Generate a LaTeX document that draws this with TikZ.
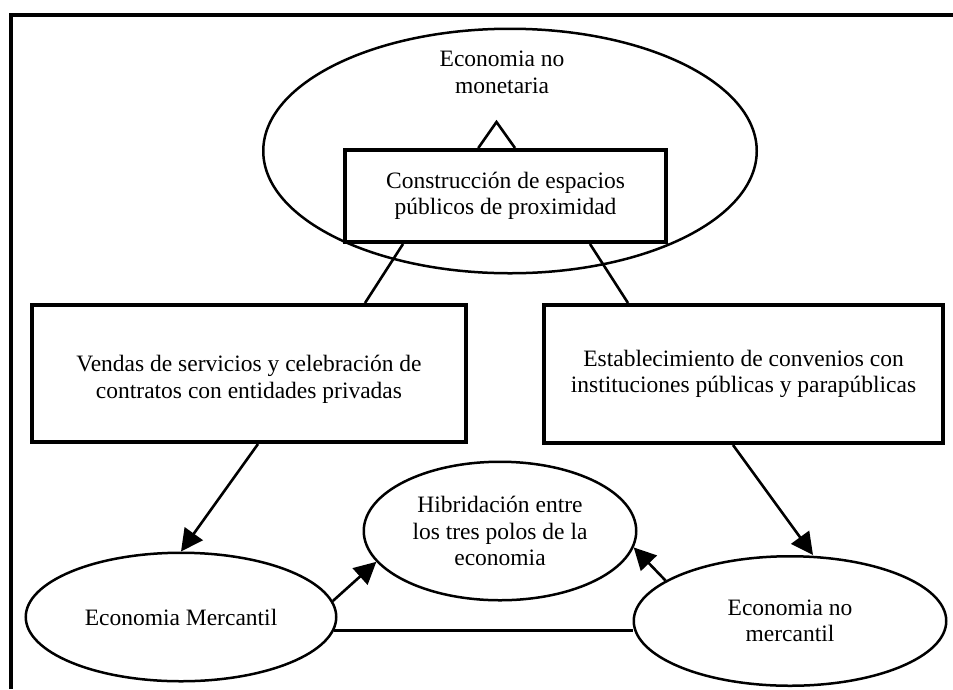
\documentclass[tikz,border=0pt]{standalone}
\usepackage{fontspec}
\setmainfont{Liberation Serif}
\usetikzlibrary{shapes.geometric,arrows.meta,calc}
\begin{document}
\begin{tikzpicture}[x=1pt,y=-1pt,
  every node/.style={font=\fontsize{23.5}{26.5}\selectfont, align=center, inner sep=0pt},
  boxnode/.style={draw, line width=4pt, rectangle, fill=white},
  ellnode/.style={draw, line width=2.5pt, ellipse},
  conn/.style={line width=2.6pt},
  arr/.style={conn, -{Triangle[length=22pt,width=22pt]}},
]
\useasboundingbox (0,0) rectangle (953,689);
\draw[line width=4pt] (11,689) -- (11,15) -- (953,15);

% top ellipse
\node[ellnode, minimum width=493.5pt, minimum height=244.5pt] (nomon) at (510,151) {};
\node (nomontext) at (502,72.5) {Economia no\\monetaria};

% boxes
\node[boxnode, minimum width=321pt, minimum height=92pt] (cons) at (505.5,196) {Construcción de espacios\\públicos de proximidad};
\node[boxnode, minimum width=434pt, minimum height=137pt] (vendas) at (249,373.5) {};
\node (vendastext) at ([yshift=-6pt]vendas.center) {Vendas de servicios y celebración de\\contratos con entidades privadas};
\node[boxnode, minimum width=399pt, minimum height=138pt] (estab) at (743.5,374) {Establecimiento de convenios con\\instituciones públicas y parapúblicas};

% bottom ellipses
\node[ellnode, minimum width=310.5pt, minimum height=128.5pt] (merc) at (181,617) {Economia Mercantil};
\node[ellnode, minimum width=272.5pt, minimum height=138.5pt] (hib) at (500,531) {Hibridación entre\\los tres polos de la\\economia};
\node[ellnode, minimum width=312.5pt, minimum height=129.5pt] (nomerc) at (790,621) {Economia no\\mercantil};

% connectors
\draw[conn] ([xshift=-27.2pt]cons.north) -- ++(18.2,-26) -- ++(18.5,26);
\draw[conn] ([xshift=60pt]cons.south west) -- ([xshift=-103pt]vendas.north east);
\draw[conn] ([xshift=-78pt]cons.south east) -- ([xshift=86pt]estab.north west);
\draw[arr] ([xshift=9pt]vendas.south) -- (merc.north);
\draw[arr] ([xshift=-10.5pt]estab.south) -- ([xshift=23pt]nomerc.north);
\draw[arr] (merc.6) -- (hib.194);
\draw[arr] (nomerc.162) -- (hib.-7);
\draw[conn] (merc.-5.6) -- (merc.-5.6 -| nomerc.west);
\end{tikzpicture}
\end{document}
